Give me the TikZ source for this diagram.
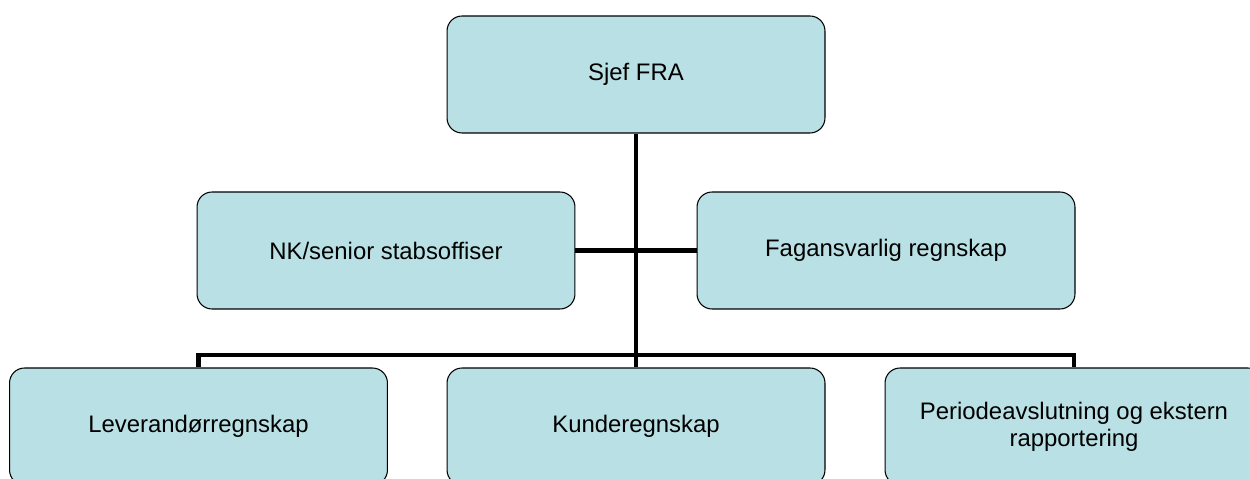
\documentclass[tikz,border=0pt]{standalone}
\usepackage{fontspec}
\setmainfont{Liberation Sans}
\usepackage{tikz}
\usetikzlibrary{calc}
\definecolor{boxfill}{RGB}{185,224,228}
\tikzset{
	unit/.style={draw=black, line width=0.6pt, fill=boxfill, rounded corners=0.3cm,
		minimum width=7.56cm, minimum height=2.34cm, inner sep=0pt,
		align=center, font=\fontsize{13.6}{15.5}\selectfont},
	link/.style={line width=2.3pt}
}

\begin{document}
\begin{tikzpicture}[x=0.02cm, y=-0.02cm]
			%%%%% START %%%%%
			
			\useasboundingbox (0, 0) rectangle (1250, 479);
			
			\node[unit] (sjef) at (636, 74.5) {Sjef FRA};
			
			\node[unit] (stab) at (386, 250.5) {NK/senior stabsoffiser};
			\node[unit] (fag) at (886, 250.5) {Fagansvarlig regnskap};
			
			\node[unit] (lev) at (198.5, 426.5) {Leverandørregnskap};
			\node[unit] (kunde) at (636, 426.5) {Kunderegnskap};
			\node[unit] (periode) at (1074, 426.5) {Periodeavslutning og ekstern\\rapportering};
			
			\coordinate (bus) at (636, 355);
			
			\draw[link] (sjef.south) -- (bus);
			\draw[link] (stab.east) -- (fag.west);
			\draw[link] (lev.north) |- (bus) -| (periode.north);
			\draw[link] (bus) -- (kunde.north);
			
			%%%%% END %%%%%
		\end{tikzpicture}
\end{document}
